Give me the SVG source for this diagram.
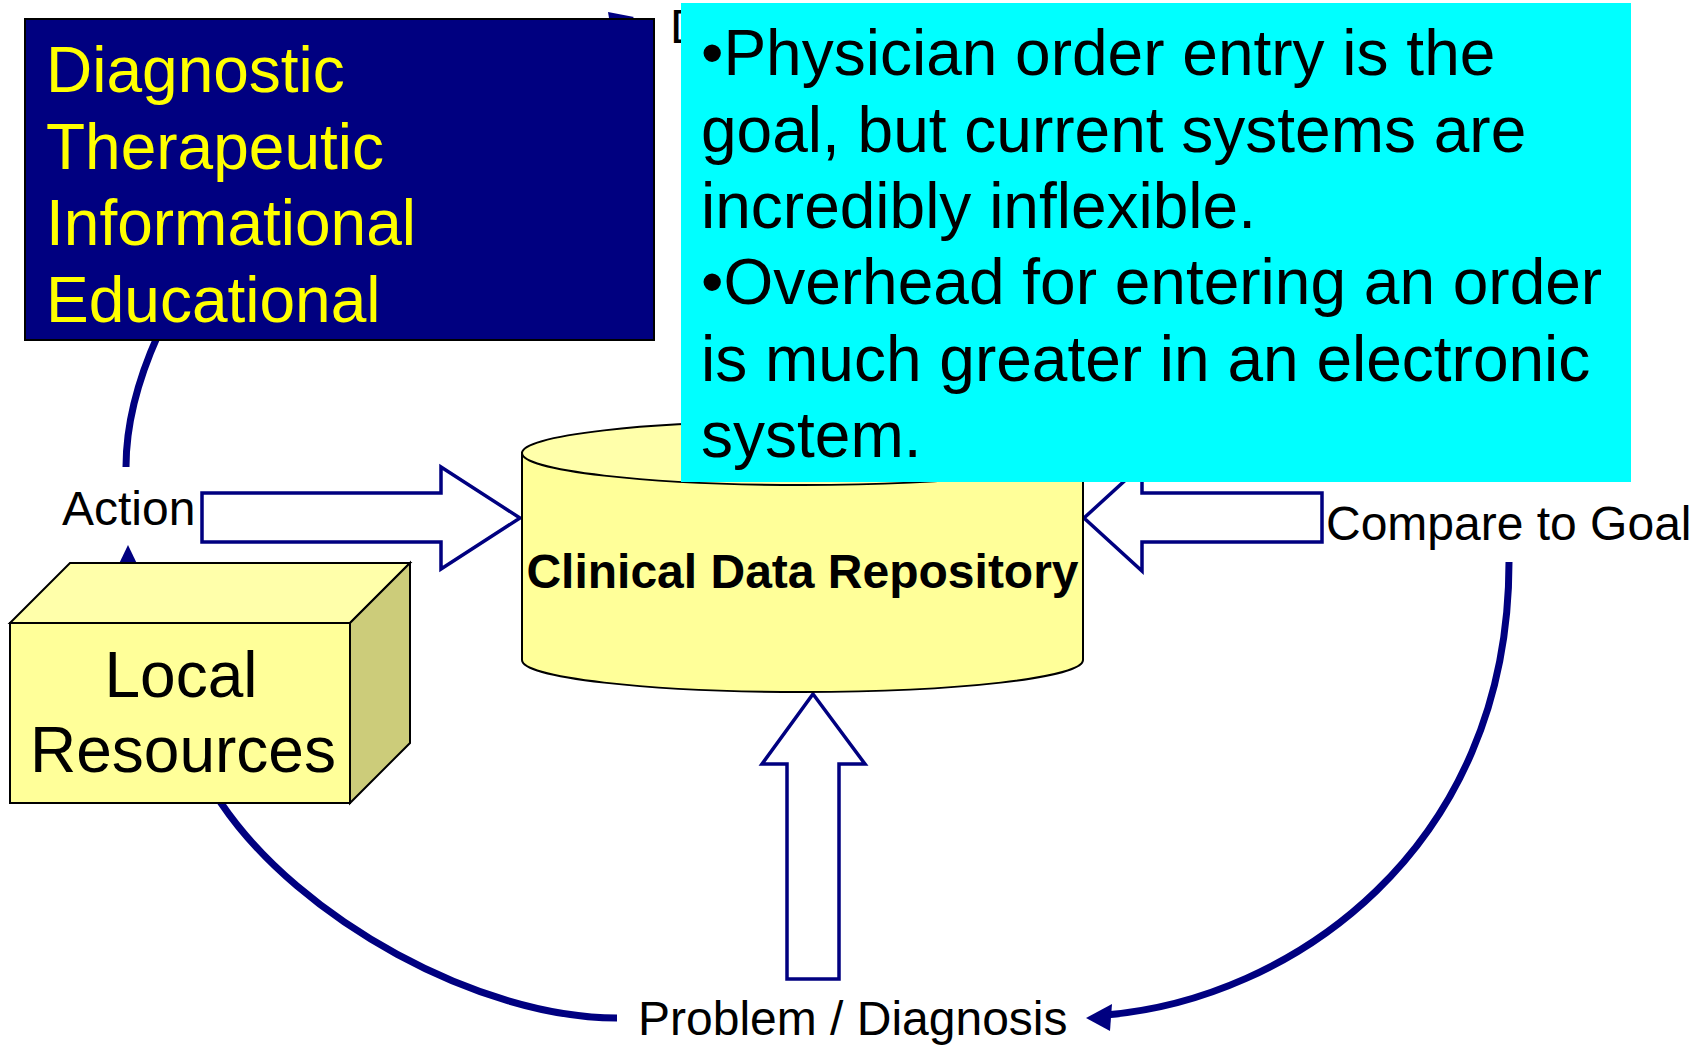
<svg xmlns="http://www.w3.org/2000/svg" width="1707" height="1045" viewBox="0 0 1707 1045">
<style>
.curve{fill:none;stroke:#000080;stroke-width:7}
.block{fill:#FFFFFF;stroke:#000080;stroke-width:3.5;stroke-linejoin:miter}
.head{fill:#000080;stroke:none}
.lbl{font-family:"Liberation Sans",Arial,sans-serif;font-size:48px;fill:#000000}
.big{font-family:"Liberation Sans",Arial,sans-serif;font-size:64px}
.edge{stroke:#000000;stroke-width:2}
</style>
<rect width="1707" height="1045" fill="#FFFFFF"/>
<g id="connectors">
  <path class="curve" d="M126,467 C126,420 140,375 158,335 C240,170 400,60 605,35"/>
  <polygon class="head" points="634,17 608,12 612,36"/>
  <path class="curve" d="M617,1018 C480,1018 300,920 221,803 C160,715 128,640 128,565"/>
  <polygon class="head" points="128,545 116,570 140,570"/>
  <path class="curve" d="M1509,562 C1509,850 1290,1000 1105,1015"/>
  <polygon class="head" points="1086,1018 1112,1004 1110,1031"/>
  <polygon class="block" points="202,493 441,493 441,467 520,518 441,569 441,542 202,542"/>
  <polygon class="block" points="1322,493 1142,493 1142,465 1084,518 1142,571 1142,542 1322,542"/>
  <polygon class="block" points="813,694 865,764 839,764 839,979 787,979 787,764 762,764"/>
</g>
<g id="node-repository">
  <path d="M522,453 L522,660 A280.5,32 0 0 0 1083,660 L1083,453 Z" fill="#FFFF99" class="edge"/>
  <ellipse cx="802.5" cy="453" rx="280.5" ry="32" fill="#FFFFAA" class="edge"/>
  <text x="802.5" y="588" text-anchor="middle" font-family="'Liberation Sans',Arial,sans-serif" font-size="48" font-weight="bold" fill="#000000">Clinical Data Repository</text>
</g>
<g id="node-local-resources">
  <polygon points="10,623 70,563 410,563 350,623" fill="#FFFFAA" class="edge"/>
  <polygon points="350,623 410,563 410,743 350,803" fill="#CCCC7A" class="edge"/>
  <rect x="10" y="623" width="340" height="180" fill="#FFFF99" class="edge"/>
  <text class="big" x="181" y="697" text-anchor="middle" fill="#000000">Local</text>
  <text class="big" x="183" y="772" text-anchor="middle" fill="#000000">Resources</text>
</g>
<g id="label-action"><text class="lbl" x="62" y="525">Action</text></g>
<g id="label-compare"><text class="lbl" x="1326" y="540">Compare to Goal</text></g>
<g id="label-problem"><text class="lbl" x="638" y="1035">Problem / Diagnosis</text></g>
<g id="node-types">
  <rect x="25" y="19" width="629" height="321" fill="#000080" class="edge"/>
  <text class="big" fill="#FFFF00" x="46" y="92">Diagnostic</text>
  <text class="big" fill="#FFFF00" x="46" y="169">Therapeutic</text>
  <text class="big" fill="#FFFF00" x="46" y="245">Informational</text>
  <text class="big" fill="#FFFF00" x="46" y="322">Educational</text>
</g>
<g id="label-d"><text class="lbl" x="670" y="43">D</text></g>
<g id="node-note">
  <rect x="681" y="3" width="950" height="479" fill="#00FFFF"/>
  <text class="big" fill="#000000" x="701" y="75">•Physician order entry is the</text>
  <text class="big" fill="#000000" x="701" y="152">goal, but current systems are</text>
  <text class="big" fill="#000000" x="701" y="228">incredibly inflexible.</text>
  <text class="big" fill="#000000" x="701" y="304">•Overhead for entering an order</text>
  <text class="big" fill="#000000" x="701" y="381">is much greater in an electronic</text>
  <text class="big" fill="#000000" x="701" y="457">system.</text>
</g>
</svg>
